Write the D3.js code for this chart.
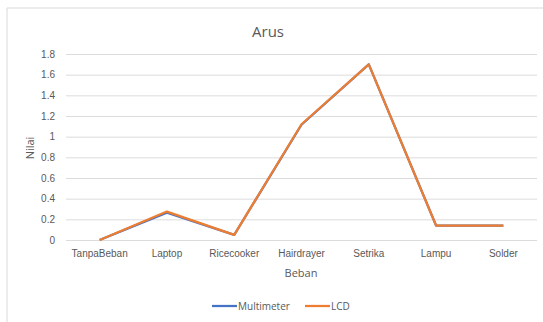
<!DOCTYPE html>
<html>
<head>
<meta charset="utf-8">
<script src="https://cdn.jsdelivr.net/npm/d3@7"></script>
<style>
  body { margin: 0; background: #fff; }
  svg { font-family: "Open Sans", "Liberation Sans", sans-serif; }
</style>
</head>
<body>
<div id="chart"></div>
<script>
// data
const categories = ["TanpaBeban", "Laptop", "Ricecooker", "Hairdrayer", "Setrika", "Lampu", "Solder"];
const multimeter = [0, 0.265, 0.05, 1.115, 1.70, 0.14, 0.14];
const lcd = [0, 0.275, 0.05, 1.12, 1.70, 0.14, 0.14];
const yTicks = [0, 0.2, 0.4, 0.6, 0.8, 1, 1.2, 1.4, 1.6, 1.8];

const width = 543;
const height = 322;
const marginTop = 54;
const marginRight = 6;
const marginBottom = 82;
const marginLeft = 66;

const svg = d3.select("#chart").append("svg")
    .attr("width", width)
    .attr("height", height);

// chart frame (cropped on right and bottom)
svg.append("path")
    .attr("d", `M7,${height} V8 H${width}`)
    .attr("fill", "none")
    .attr("stroke", "#d9d9d9");

const x = d3.scaleBand(categories, [marginLeft, width - marginRight]);
const y = d3.scaleLinear([0, 1.8], [height - marginBottom, marginTop]);

// y axis with grid lines
svg.append("g")
    .attr("transform", `translate(${marginLeft},0)`)
    .call(d3.axisLeft(y).tickValues(yTicks).tickFormat(d => d3.format("")(+d.toFixed(1))).tickSize(0).tickPadding(11))
    .call(g => g.select(".domain").remove())
    .call(g => g.selectAll(".tick line").clone()
        .attr("x2", width - marginLeft - marginRight)
        .attr("stroke", "#dcdcdc"))
    .call(g => g.selectAll("text").attr("fill", "#595959").attr("font-size", 10));

// x axis
svg.append("g")
    .attr("transform", `translate(0,${height - marginBottom})`)
    .call(d3.axisBottom(x).tickSize(0).tickPadding(10))
    .call(g => g.select(".domain").remove())
    .call(g => g.selectAll("text").attr("fill", "#595959").attr("font-size", 10));

// titles
svg.append("text")
    .attr("x", 268).attr("y", 37)
    .attr("text-anchor", "middle")
    .attr("font-size", 15)
    .attr("fill", "#595959")
    .text("Arus");

svg.append("text")
    .attr("x", 301).attr("y", 277)
    .attr("text-anchor", "middle")
    .attr("font-size", 11)
    .attr("fill", "#595959")
    .text("Beban");

svg.append("text")
    .attr("transform", "translate(34,148) rotate(-90)")
    .attr("text-anchor", "middle")
    .attr("font-size", 11)
    .attr("fill", "#595959")
    .text("Nilai");

// lines
const line = d3.line()
    .x((d, i) => x(categories[i]) + x.bandwidth() / 2)
    .y(d => y(d));

const series = [
    { name: "Multimeter", values: multimeter, color: "#4472c4" },
    { name: "LCD", values: lcd, color: "#ed7d31" }
];

svg.selectAll(".series")
    .data(series)
    .join("path")
    .attr("class", "series")
    .attr("fill", "none")
    .attr("stroke", d => d.color)
    .attr("stroke-width", 2.25)
    .attr("stroke-linejoin", "round")
    .attr("d", d => line(d.values));

// legend
const legendX = [212, 305];
const legend = svg.selectAll(".legend")
    .data(series)
    .join("g")
    .attr("class", "legend")
    .attr("transform", (d, i) => `translate(${legendX[i]},306)`);

legend.append("line")
    .attr("x2", 25)
    .attr("stroke", d => d.color)
    .attr("stroke-width", 2.25);

legend.append("text")
    .attr("x", 26)
    .attr("dy", "0.35em")
    .attr("font-size", 10)
    .attr("fill", "#595959")
    .text(d => d.name);
</script>
</body>
</html>
